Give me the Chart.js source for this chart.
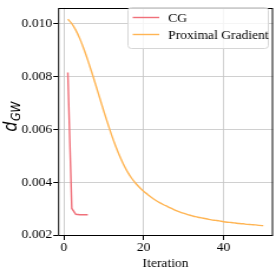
<!DOCTYPE html>
<html>
<head>
<meta charset="utf-8">
<script src="https://cdn.jsdelivr.net/npm/chart.js@4.4.1/dist/chart.umd.min.js"></script>
<style>
html,body{margin:0;padding:0;background:#fff;overflow:hidden;}
#wrap{width:234px;height:272px;position:absolute;left:0;top:0;transform:scaleX(1.17949);transform-origin:0 0;}
</style>
</head>
<body>
<div id="wrap"><canvas id="c" width="234" height="272"></canvas></div>
<script>
const cgIter = [1, 2, 3, 4, 5, 6];
const cgValues = [0.00815, 0.00302, 0.00280, 0.00278, 0.00278, 0.00278];
const pgIter = [1,2,3,4,5,6,7,8,9,10,11,12,13,14,15,16,17,18,19,20,21,22,23,24,25,26,27,28,29,30,31,32,33,34,35,36,37,38,39,40,41,42,43,44,45,46,47,48,49,50];
const pgValues = [0.01016,0.01000,0.00975,0.00943,0.00905,0.00862,0.00816,0.00768,0.00719,0.00670,
  0.00623,0.00578,0.00537,0.00500,0.00467,0.00439,0.00416,0.00397,0.00381,0.00367,
  0.00355,0.00343,0.00333,0.00324,0.00316,0.00309,0.00302,0.00295,0.00289,0.00284,
  0.00279,0.00275,0.00271,0.00268,0.00265,0.00262,0.00259,0.00257,0.00255,0.00252,
  0.00250,0.00249,0.00247,0.00245,0.00244,0.00242,0.00241,0.00240,0.00238,0.00237];
const xTicks = [0, 20, 40];
const yTicks = [0.002, 0.004, 0.006, 0.008, 0.010];
const seriesLabels = ['CG', 'Proximal Gradient'];
const seriesColors = ['rgb(240,112,122)', 'rgb(255,181,84)'];
const xTitle = 'Iteration';

const serif = "'Liberation Serif', 'DejaVu Serif', serif";
const sans = "'DejaVu Sans', sans-serif";

const framePlugin = {
  id: 'frame',
  afterDraw(chart) {
    const ctx = chart.ctx, a = chart.chartArea;
    ctx.save();
    ctx.strokeStyle = '#000';
    ctx.lineWidth = 1;
    ctx.strokeRect(a.left + 0.5, Math.round(a.top) + 0.5, a.right - a.left - 1, Math.round(a.bottom - a.top) - 1);

    // legend
    const lx = 108.5, ly = 7.5, lw = 119, lh = 41;
    ctx.beginPath();
    const r = 3;
    ctx.moveTo(lx + r, ly);
    ctx.arcTo(lx + lw, ly, lx + lw, ly + lh, r);
    ctx.arcTo(lx + lw, ly + lh, lx, ly + lh, r);
    ctx.arcTo(lx, ly + lh, lx, ly, r);
    ctx.arcTo(lx, ly, lx + lw, ly, r);
    ctx.closePath();
    ctx.fillStyle = 'rgba(255,255,255,0.8)';
    ctx.fill();
    ctx.strokeStyle = '#d6d6d6';
    ctx.lineWidth = 1;
    ctx.stroke();
    ctx.font = '11.5px ' + serif;
    ctx.textBaseline = 'middle';
    ctx.textAlign = 'left';
    chart.data.datasets.forEach((ds, i) => {
      const y = 17.5 + i * 17;
      ctx.strokeStyle = ds.borderColor;
      ctx.lineWidth = 1.4;
      ctx.beginPath();
      ctx.moveTo(112.5, y);
      ctx.lineTo(135, y);
      ctx.stroke();
      ctx.fillStyle = '#000';
      ctx.fillText(ds.label, 142.5, y + 1);
    });

    // x title
    ctx.fillStyle = '#000';
    ctx.font = '11.5px ' + serif;
    ctx.textAlign = 'center';
    ctx.textBaseline = 'middle';
    ctx.fillText(xTitle, (a.left + a.right) / 2, 264);

    // y title d_GW
    ctx.save();
    ctx.translate(14.2, 117);
    ctx.rotate(-Math.PI / 2);
    ctx.textAlign = 'left';
    ctx.textBaseline = 'alphabetic';
    ctx.font = 'italic 16px ' + sans;
    const w1 = ctx.measureText('d').width;
    ctx.font = 'italic 11px ' + sans;
    const w2 = ctx.measureText('GW').width;
    const start = -(w1 + w2) / 2;
    ctx.font = 'italic 16px ' + sans;
    ctx.fillText('d', start, 0);
    ctx.font = 'italic 11px ' + sans;
    ctx.fillText('GW', start + w1 + 0.5, 2.8);
    ctx.restore();
    ctx.restore();
  }
};

new Chart(document.getElementById('c'), {
  type: 'line',
  data: {
    datasets: [
      { label: seriesLabels[0], data: cgIter.map((x, i) => ({x, y: cgValues[i]})), borderColor: seriesColors[0], borderWidth: 1.4, pointRadius: 0, fill: false, tension: 0 },
      { label: seriesLabels[1], data: pgIter.map((x, i) => ({x, y: pgValues[i]})), borderColor: seriesColors[1], borderWidth: 1.4, pointRadius: 0, fill: false, cubicInterpolationMode: 'monotone' }
    ]
  },
  options: {
    responsive: false,
    animation: false,
    devicePixelRatio: 1,
    layout: { padding: { top: 2, right: 2.5, left: 0, bottom: 0 } },
    plugins: { legend: { display: false }, tooltip: { enabled: false } },
    scales: {
      x: {
        type: 'linear',
        min: -1.45, max: 52.45,
        afterBuildTicks(s) { s.ticks = xTicks.map(v => ({value: v})); },
        afterFit(s) { s.height = 36; },
        grid: { color: '#c4c4c4', lineWidth: 0.8, tickColor: '#000', tickLength: 4, tickWidth: 1 },
        border: { display: false },
        ticks: { color: '#000', font: { family: serif, size: 11.5 }, padding: 1, maxRotation: 0, callback: v => String(v) }
      },
      y: {
        type: 'linear',
        min: 0.00198, max: 0.01059,
        afterBuildTicks(s) { s.ticks = yTicks.map(v => ({value: v})); },
        afterFit(s) { s.width = 49.2; },
        grid: { color: '#c4c4c4', lineWidth: 0.8, tickColor: '#000', tickLength: 4, tickWidth: 1 },
        border: { display: false },
        ticks: { color: '#000', font: { family: serif, size: 11.5 }, padding: 1, callback: v => v.toFixed(3) }
      }
    }
  },
  plugins: [framePlugin]
});
</script>
</body>
</html>
